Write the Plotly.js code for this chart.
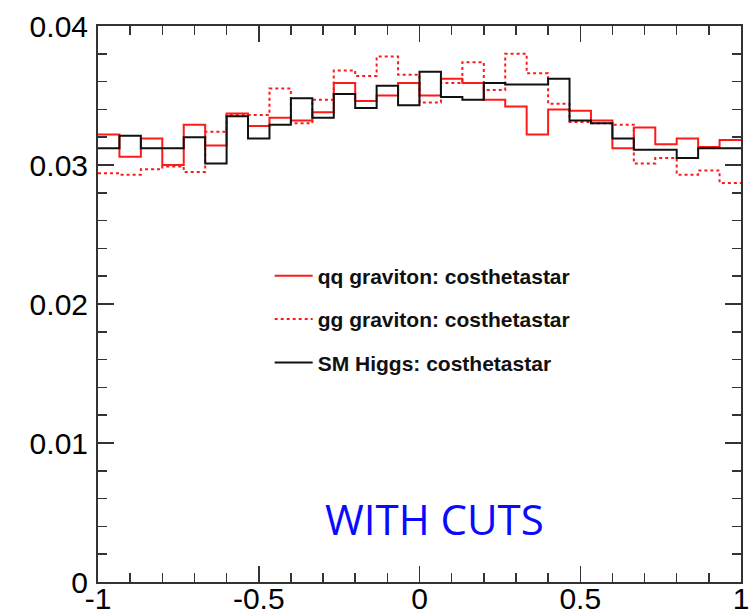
<!DOCTYPE html>
<html>
<head>
<meta charset="utf-8">
<script src="https://cdn.plot.ly/plotly-3.0.1.min.js"></script>
<style>html,body{margin:0;padding:0;background:#fff;}#chart{width:753px;height:615px;}</style>
</head>
<body>
<div id="chart"></div>
<script>
// Histogram range and binning (30 bins from -1 to 1)
const xMin = -1, xMax = 1, nBins = 30;

// Bin contents
const qqGraviton = [0.0322,0.0306,0.0319,0.0300,0.0329,0.0314,0.0337,0.0328,0.0334,0.0332,
                    0.0338,0.0359,0.0346,0.0350,0.0359,0.0350,0.0362,0.0359,0.0347,0.0342,
                    0.0322,0.0340,0.0339,0.0332,0.0312,0.0327,0.0315,0.0319,0.0313,0.0318];
const ggGraviton = [0.0294,0.0293,0.0297,0.0299,0.0295,0.0324,0.0336,0.0336,0.0355,0.0330,
                    0.0347,0.0368,0.0364,0.0378,0.0365,0.0345,0.0359,0.0374,0.0354,0.0380,
                    0.0366,0.0344,0.0331,0.0330,0.0329,0.0301,0.0305,0.0293,0.0296,0.0287];
const smHiggs    = [0.0312,0.0321,0.0312,0.0312,0.0320,0.0301,0.0335,0.0319,0.0329,0.0348,
                    0.0334,0.0351,0.0341,0.0357,0.0343,0.0367,0.0349,0.0347,0.0359,0.0358,
                    0.0358,0.0362,0.0332,0.0330,0.0319,0.0311,0.0311,0.0305,0.0312,0.0312];

const seriesNames = ["qq graviton: costhetastar", "gg graviton: costhetastar", "SM Higgs: costhetastar"];
const xTickVals = [-1, -0.5, 0, 0.5, 1];
const xTickText = ["-1", "-0.5", "0", "0.5", "1"];
const yTickVals = [0, 0.01, 0.02, 0.03, 0.04];
const yTickText = ["0", "0.01", "0.02", "0.03", "0.04"];
const annotationText = "WITH CUTS";

// step outline: bin low edges plus final upper edge
const binW = (xMax - xMin) / nBins;
const edges = [];
for (let i = 0; i <= nBins; i++) edges.push(xMin + i * binW);
function stepY(vals) { return vals.concat([vals[vals.length - 1]]); }

function histTrace(vals, name, color, dash, group) {
  return {
    type: 'scatter', mode: 'lines', x: edges, y: stepY(vals), name: name,
    legendgroup: group,
    line: {shape: 'hv', color: color, width: 2, dash: dash},
    hoverinfo: 'skip'
  };
}

const traces = [
  histTrace(qqGraviton, seriesNames[0], '#ff1a1a', 'solid', 'a'),
  histTrace(ggGraviton, seriesNames[1], '#ff1a1a', 'dot', 'b'),
  histTrace(smHiggs, seriesNames[2], '#111111', 'solid', 'c')
];

const tickFont = {family: 'Liberation Sans, Arial, sans-serif', size: 30, color: '#000'};

const layout = {
  width: 753, height: 615,
  margin: {l: 98, r: 12, t: 26, b: 33, pad: 0},
  paper_bgcolor: '#fff', plot_bgcolor: '#fff',
  showlegend: true,
  legend: {
    x: 0.267, y: 0.587, xanchor: 'left', yanchor: 'top',
    bgcolor: 'rgba(0,0,0,0)', borderwidth: 0,
    itemwidth: 38,
    tracegroupgap: 13,
    font: {family: 'Liberation Sans, Arial, sans-serif', size: 21, color: '#111', weight: 'bold'}
  },
  xaxis: {
    range: [xMin, xMax], tickvals: xTickVals, ticktext: xTickText,
    ticks: 'inside', ticklen: 16, tickwidth: 1.5, tickcolor: '#333',
    showline: true, linecolor: '#333', linewidth: 2, mirror: 'ticks',
    showgrid: false, zeroline: false, tickfont: tickFont, ticklabelstandoff: -11,
    minor: {dtick: 0.1, ticks: 'inside', ticklen: 9, tickwidth: 1.5, tickcolor: '#333', showgrid: false}
  },
  yaxis: {
    range: [0, 0.04], tickvals: yTickVals, ticktext: yTickText,
    ticks: 'inside', ticklen: 16, tickwidth: 1.5, tickcolor: '#333',
    showline: true, linecolor: '#333', linewidth: 2, mirror: 'ticks',
    showgrid: false, zeroline: false, tickfont: tickFont, ticklabelstandoff: 2,
    minor: {dtick: 0.002, ticks: 'inside', ticklen: 9, tickwidth: 1.5, tickcolor: '#333', showgrid: false}
  },
  annotations: [{
    text: annotationText, x: 0.047, y: 0.0046, xref: 'x', yref: 'y',
    showarrow: false,
    font: {family: 'Open Sans, Noto Sans, sans-serif', size: 42, color: '#0a0aff'}
  }]
};

Plotly.newPlot('chart', traces, layout, {displayModeBar: false, staticPlot: true});
</script>
</body>
</html>
